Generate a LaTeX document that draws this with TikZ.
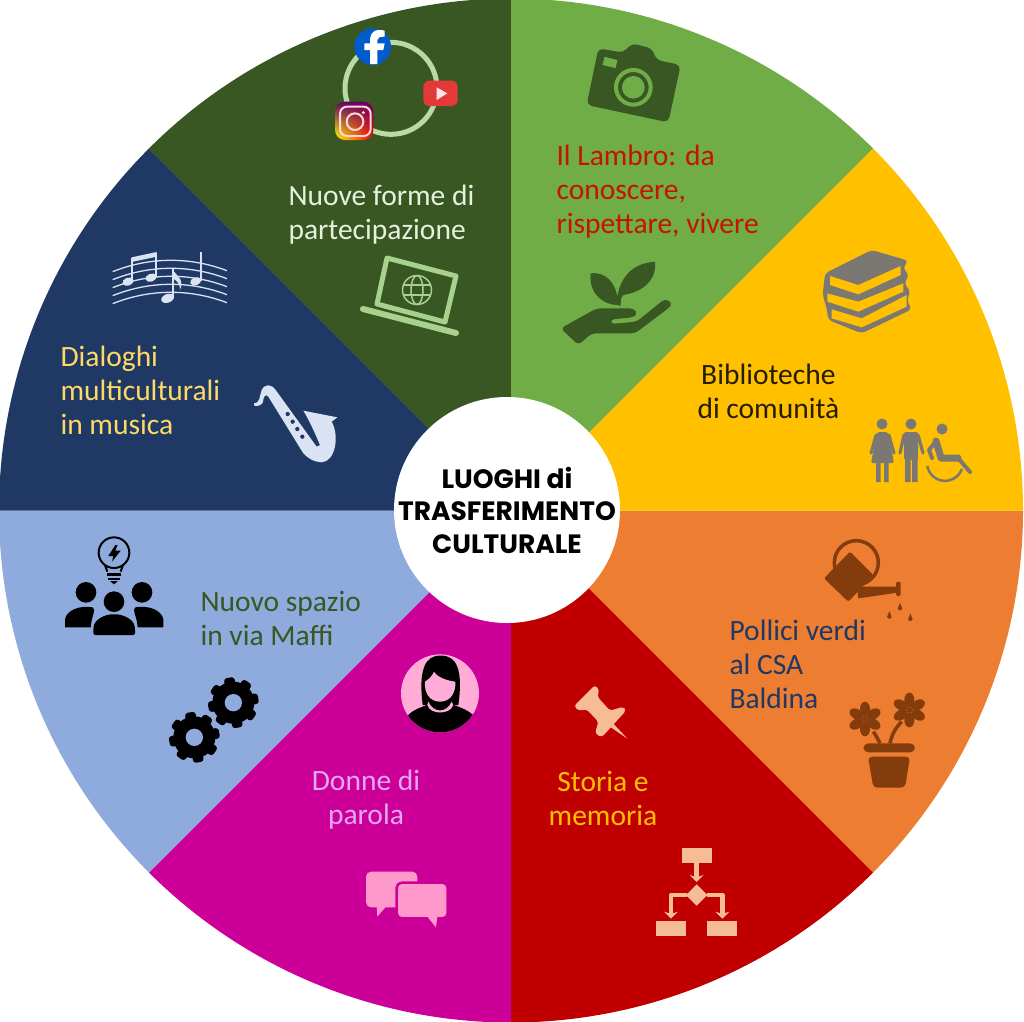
\documentclass[tikz,border=0pt]{standalone}
\usepackage{fontspec}
\setmainfont{Carlito}
\newfontfamily\hubfont{Poppins}
\usetikzlibrary{
  arrows.meta,
  shadings
}
\definecolor{forest}{HTML}{385723}
\definecolor{leaf}{HTML}{70AD47}
\definecolor{sun}{HTML}{FFC000}
\definecolor{tangerine}{HTML}{ED7D31}
\definecolor{crimson}{HTML}{C00000}
\definecolor{fuchsia}{HTML}{CC0099}
\definecolor{pale}{HTML}{8FAADC}
\definecolor{navy}{HTML}{1F3864}
\definecolor{sage}{HTML}{A9D18E}
\definecolor{ash}{HTML}{7B7772}
\definecolor{rust}{HTML}{843C0C}
\definecolor{peach}{HTML}{F6BC96}
\definecolor{candy}{HTML}{FF99CC}
\definecolor{lilac}{HTML}{E6A6F0}
\definecolor{ice}{HTML}{DAE3F3}
\tikzset{
  every node/.style={align=left, font=\fontsize{29.5}{34}\selectfont},
  bloom/.pic={
    \foreach \a in {0,60,...,300}
      \fill[rust, rotate=\a+30] (30,0) ellipse [x radius=22, y radius=15];
    \fill[rust] (0,0) circle (9);
  },
  gearicon/.pic={
    \fill[black] (0,0) circle (63);
    \foreach \a in {0,45,...,315}
      \fill[black, rotate=\a+10, rounded corners=3] (52,-16) rectangle (76,16);
    \fill[pale] (0,0) circle (26);
  },
  icon/.style={shift={#1}, scale=1/3},
}

\begin{document}
\begin{tikzpicture}[x=1pt, y=1pt, yscale=-1, line join=round]
  \useasboundingbox (0,0) rectangle (1024,1021);
  \foreach \col [count=\i from 0] in {tangerine,crimson,fuchsia,pale,navy,forest,leaf,sun}
    \fill[\col] (511,510.5) -- ++(\i*45:512) arc[start angle=\i*45, end angle=\i*45+45, radius=512] -- cycle;

  \fill[white] (507,510) circle (113);
  \node[font=\hubfont\bfseries\fontsize{26.5}{32.5}\selectfont, align=center] (hub) at (507,510) {LUOGHI di\\TRASFERIMENTO\\CULTURALE};

  \node[anchor=west, text=white!70!sage] (social) at (285,215) {Nuove forme di\\partecipazione};
  \node[anchor=west, text=crimson!90!sun] (lambro) at (553,192) {Il Lambro: da\\conoscere,\\rispettare, vivere};
  \node[anchor=west, text=black!85!sun, align=center] (library) at (694,391) {Biblioteche\\di comunità};
  \node[anchor=west, text=navy] (garden) at (726,664) {Pollici verdi\\al CSA\\Baldina};
  \node[text=sun, align=center] (memory) at (603,798) {Storia e\\memoria};
  \node[text=lilac, align=center] (women) at (366,800) {Donne di\\parola};
  \node[anchor=west, text=forest] (space) at (197,618) {Nuovo spazio\\in via Maffi};
  \node[anchor=west, text=sun!60!white] (music) at (57,390) {Dialoghi\\multiculturali\\in musica};

  % social ring
  \begin{scope}[icon={(300,0)}]
    \draw[sage!80!white, line width=5pt] (273,265) circle (138);
    \fill[blue!55!cyan!80!black] (218,140) circle (55);
    \fill[white] (232,192) -- (232,150) -- (250,150) -- (254,130) -- (232,130) -- (232,120) .. controls (232,112) and (240,110) .. (254,110) -- (254,92) .. controls (225,85) and (210,95) .. (210,125) -- (210,130) -- (193,130) -- (193,150) -- (210,150) -- (210,192) -- cycle;
    \fill[red!75!white!90!black, rounded corners=6pt] (370,242) rectangle (473,318);
    \fill[white!90!red] (410,262) -- (442,280) -- (410,300) -- cycle;
    \shade[rounded corners=10pt, upper left=violet!80!black, upper right=violet!80!black, lower left=yellow, lower right=red] (105,305) rectangle (220,420);
    \draw[white!85!red, line width=2pt, rounded corners=7pt] (120,320) rectangle (212,408);
    \draw[white!85!red, line width=2pt] (165,365) circle (25);
    \fill[white!85!red] (190,338) circle (5);
  \end{scope}

  % laptop
  \draw[sage, line width=5pt] (387,258) -- (456,276) -- (445,322) -- (377,304) -- cycle;
  \draw[sage, line width=6pt, line cap=round] (363,309) -- (456,333);
  \begin{scope}[sage, line width=1.5pt]
    \draw (417,290) circle (14.5);
    \draw (417,290) ellipse [x radius=6, y radius=14.5];
    \draw (403,285) -- (431,285) (403,295) -- (431,295);
  \end{scope}

  % camera
  \begin{scope}[icon={(540,30)}]
    \fill[forest, rounded corners=5pt] (175,55) -- (250,68) -- (275,40) -- (335,55) -- (350,90) -- (422,105) -- (385,277) -- (140,225) -- cycle;
    \draw[leaf, line width=4pt] (280,172) circle (52);
    \fill[leaf] (280,172) circle (34);
    \fill[leaf, rotate around={14:(210,98)}] (190,85) rectangle (230,110);
  \end{scope}

  % hand and plant
  \begin{scope}[icon={(540,30)}]
    \fill[forest] (232,825) .. controls (195,825) and (145,795) .. (152,730) .. controls (200,725) and (225,760) .. (232,800) .. controls (240,750) and (270,700) .. (345,695) .. controls (350,750) and (310,785) .. (250,795) .. controls (240,805) and (243,815) .. (242,828) -- cycle;
    \fill[forest, rounded corners=4pt] (62,895) -- (170,835) -- (280,835) -- (293,850) -- (280,862) -- (212,868) -- (212,882) -- (290,875) -- (375,806) -- (398,820) -- (385,835) -- (285,910) -- (155,910) -- (115,945) -- cycle;
  \end{scope}

  % books
  \begin{scope}[icon={(810,240)}]
    \fill[ash, rounded corners=4pt] (45,100) -- (185,30) -- (295,62) -- (278,85) -- (298,105) -- (282,130) -- (302,155) -- (290,180) -- (305,208) -- (155,280) -- (55,240) -- (50,205) -- (38,165) -- cycle;
    \fill[sun] (60,108) -- (145,135) -- (272,78) -- (272,105) -- (145,163) -- (60,135) -- cycle;
    \fill[sun] (52,160) -- (145,185) -- (280,130) -- (280,155) -- (145,215) -- (52,185) -- cycle;
    \fill[sun] (65,208) -- (155,235) -- (290,165) -- (290,200) -- (155,262) -- (65,235) -- cycle;
  \end{scope}

  % people
  \begin{scope}[ash]
    \fill (882,424) circle (5.5);
    \fill[rounded corners=2pt] (877,432) -- (888,432) -- (894,463) -- (871,463) -- cycle;
    \fill (876,462) rectangle (880.5,482) (884,462) rectangle (888.5,482);
    \draw[line width=3pt, line cap=round] (876,435) -- (871,453) (889,435) -- (894,453);
    \fill (911,424) circle (5.5);
    \fill[rounded corners=2pt] (904,432) rectangle (918,460);
    \fill (905,458) rectangle (910.5,482) (912,458) rectangle (917.5,482);
    \draw[line width=3.2pt, line cap=round] (904,435) -- (900,453) (918,435) -- (923,453);
    \fill (942,429) circle (5.5);
    \draw[line width=7pt, line cap=round] (936,441) -- (941,458) -- (958,458);
    \draw[line width=4pt, line cap=round] (936,441) -- (929,450) -- (932,458) (958,458) -- (970,472);
    \draw[line width=2.5pt] (927.3,466) arc[start angle=170, end angle=20, radius=18];
  \end{scope}

  % watering can
  \begin{scope}[icon={(810,530)}, rust]
    \draw[line width=3.5pt] (139,98) circle (66);
    \fill[rounded corners=2pt] (42,145) -- (120,65) -- (190,135) -- (115,215) -- cycle;
    \fill (140,170) -- (262,170) -- (262,188) -- (145,205) -- cycle;
    \fill[rounded corners=2pt] (258,155) rectangle (272,198);
    \foreach \dx/\dy in {270/235, 238/260, 301/267}
      \fill (\dx,\dy-17) -- (\dx+7,\dy+1) arc[start angle=15, end angle=165, radius=7.2] -- cycle;
  \end{scope}

  % flower pot
  \begin{scope}[icon={(810,530)}]
    \pic[scale=1/3] (bloomA) at (165,567) {bloom};
    \pic[scale=1/3] (bloomB) at (298,540) {bloom};
    \draw[rust, line width=3.5pt] (190,605) .. controls (200,620) and (205,630) .. (210,640) (240,640) .. controls (245,615) and (255,595) .. (275,575);
    \fill[rust, rounded corners=5pt] (160,640) rectangle (315,667);
    \fill[rust, rounded corners=4pt] (174,680) -- (300,680) -- (285,773) -- (190,773) -- cycle;
  \end{scope}

  % pushpin
  \begin{scope}[icon={(560,680)}, peach]
    \fill[rounded corners=3pt] (42,78) -- (105,15) -- (118,30) -- (112,50) -- (150,92) -- (190,80) -- (198,92) -- (125,172) -- (105,160) -- (115,125) -- (80,88) -- (55,92) -- cycle;
    \fill (150,120) -- (202,176) -- (138,132) -- cycle;
  \end{scope}

  % flow chart
  \begin{scope}[icon={(560,680)}, peach]
    \fill (365,505) rectangle (455,550);
    \fill (410,613) -- (442,645) -- (410,677) -- (378,645) -- cycle;
    \fill (288,722) rectangle (378,767);
    \fill (441,722) rectangle (531,767);
    \draw[line width=4.5pt, -{Stealth[length=7pt, width=14pt]}] (410,550) -- (410,606);
    \draw[line width=4.5pt, -{Stealth[length=7pt, width=14pt]}] (380,645) -- (333,645) -- (333,716);
    \draw[line width=4.5pt, -{Stealth[length=7pt, width=14pt]}] (440,645) -- (487,645) -- (487,716);
  \end{scope}

  % avatar
  \begin{scope}[icon={(350,640)}]
    \fill[candy!80!white] (270,160) circle (117);
    \begin{scope}
      \clip (270,160) circle (117);
      \fill[black] (170,230) .. controls (190,205) and (225,200) .. (240,190) -- (300,190) .. controls (320,200) and (350,205) .. (375,230) -- (375,290) -- (170,290) -- cycle;
    \end{scope}
    \fill[black] (218,195) .. controls (205,90) and (225,45) .. (272,47) .. controls (320,45) and (340,90) .. (325,195) -- cycle;
    \fill[candy!80!white] (235,185) .. controls (250,220) and (290,220) .. (305,185) -- (310,195) .. controls (300,225) and (240,225) .. (232,195) -- cycle;
    \fill[candy!80!white] (225,125) .. controls (240,115) and (248,105) .. (252,95) .. controls (265,115) and (295,122) .. (316,125) .. controls (318,160) and (300,185) .. (270,185) .. controls (240,185) and (222,160) .. (225,125) -- cycle;
  \end{scope}

  % speech bubbles
  \begin{scope}[icon={(350,640)}]
    \fill[candy, rounded corners=5pt] (48,695) rectangle (202,802);
    \fill[candy] (80,795) -- (82,830) -- (112,795) -- cycle;
    \filldraw[candy, draw=fuchsia, line width=2.5pt, rounded corners=5pt] (140,728) rectangle (293,835);
    \fill[candy] (232,830) -- (258,862) -- (262,830) -- cycle;
  \end{scope}

  % idea group
  \begin{scope}[icon={(50,530)}]
    \draw[black, line width=2pt] (192,68) circle (46);
    \draw[black, line width=2pt] (165,105) -- (172,125) (219,105) -- (212,125);
    \fill[black] (170,130) rectangle (214,138);
    \fill[black] (175,143) rectangle (209,151);
    \fill[black] (180,153) -- (204,153) -- (192,163) -- cycle;
    \fill[black] (196,45) -- (175,78) -- (190,78) -- (186,95) -- (212,62) -- (196,62) -- (203,45) -- cycle;
    \fill[black] (108,187) circle (31);
    \fill[black] (276,187) circle (31);
    \fill[black] (192,215) circle (31);
    \fill[black] (45,292) -- (45,268) .. controls (50,240) and (90,225) .. (128,232) .. controls (140,240) and (125,255) .. (122,292) -- cycle;
    \fill[black] (340,292) -- (340,268) .. controls (335,240) and (295,225) .. (256,232) .. controls (245,240) and (260,255) .. (263,292) -- cycle;
    \fill[black, rounded corners=2pt] (130,315) -- (130,295) .. controls (135,265) and (170,253) .. (192,253) .. controls (215,253) and (250,265) .. (255,295) -- (255,315) -- cycle;
    \pic[scale=1/3] (gearA) at (550,518) {gearicon};
    \pic[scale=1/3] (gearB) at (433,622) {gearicon};
  \end{scope}

  % staff and notes
  \begin{scope}[icon={(100,240)}, ice]
    \foreach \dy in {0,24,48,72,96}
      \draw[line width=1.3pt] (38,95+\dy) .. controls (150,50+\dy) and (270,50+\dy) .. (381,92+\dy);
    \draw[line width=2pt] (97,125) -- (97,55) (167,110) -- (167,40) (218,170) -- (218,88) (302,122) -- (302,35);
    \fill (95,52) -- (170,36) -- (170,50) -- (95,66) -- cycle;
    \fill[rotate around={-20:(84,125)}] (84,125) ellipse [x radius=17, y radius=12];
    \fill[rotate around={-20:(153,113)}] (153,113) ellipse [x radius=17, y radius=12];
    \fill[rotate around={-20:(203,175)}] (203,175) ellipse [x radius=20, y radius=13];
    \fill[rotate around={-20:(287,124)}] (287,124) ellipse [x radius=17, y radius=12];
    \fill (218,88) .. controls (225,105) and (255,115) .. (240,150) .. controls (240,125) and (225,120) .. (218,115) -- cycle;
  \end{scope}

  % saxophone
  \begin{scope}[icon={(100,240)}]
    \fill[ice] (462,490) .. controls (480,490) and (478,470) .. (485,450) .. controls (495,430) and (515,432) .. (527,450) -- (650,620) -- (660,615) .. controls (645,580) and (630,545) .. (610,512) -- (712,532) -- (695,545) .. controls (720,590) and (705,665) .. (665,667) .. controls (635,665) and (620,650) .. (610,640) -- (505,470) .. controls (498,460) and (490,470) .. (490,480) .. controls (490,495) and (475,500) .. (462,497) -- cycle;
    \foreach \hx/\hy in {563/522, 578/545, 592/567, 607/590}
      \fill[navy] (\hx,\hy) circle (6.5);
  \end{scope}
\end{tikzpicture}
\end{document}
